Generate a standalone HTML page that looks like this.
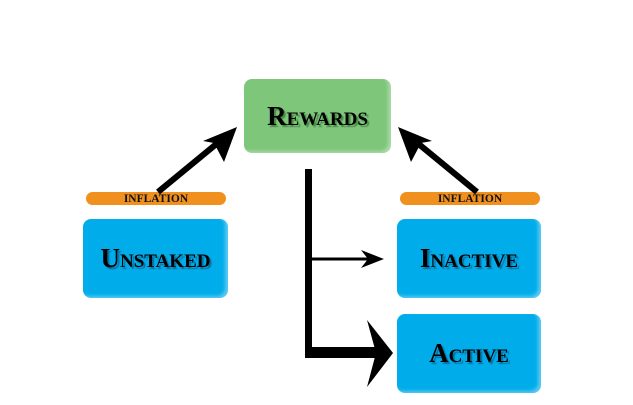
<!DOCTYPE html>
<html><head><style>
body{margin:0;width:633px;height:405px;background:#fff;position:relative;overflow:hidden;font-family:"Liberation Serif",serif}
.b{position:absolute;border-radius:8px;display:flex;align-items:center;justify-content:center;font-weight:bold;font-variant:small-caps;font-size:27px;color:#000;box-shadow:inset -3px -2px 3px rgba(255,255,255,.35)}
.bl{background:#00adea;text-shadow:2px 2px 1px #0a6fa0}
.g{background:#7dc67a;text-shadow:2px 2px 1px #4a8a48}
.inf{position:absolute;height:13px;border-radius:7px;background:#f0901e;font-size:11.5px;font-weight:bold;display:flex;align-items:center;justify-content:center;color:#111;padding-top:1px;box-sizing:border-box}
</style></head><body>
<div class="b g" style="left:244px;top:79px;width:147px;height:74px">Rewards</div>
<div class="b bl" style="left:83px;top:219px;width:145px;height:79px">Unstaked</div>
<div class="b bl" style="left:397px;top:219px;width:144px;height:79px">Inactive</div>
<div class="b bl" style="left:397px;top:314px;width:144px;height:79px">Active</div>
<div class="inf" style="left:86px;top:192px;width:140px">INFLATION</div>
<div class="inf" style="left:400px;top:192px;width:140px">INFLATION</div>
<svg width="633" height="405" style="position:absolute;left:0;top:0">
<line x1="158" y1="192" x2="220" y2="141" stroke="#000" stroke-width="6"/>
<polygon points="237,127 203,141 214,143 224,162" fill="#000"/>
<line x1="477" y1="192" x2="415" y2="141" stroke="#000" stroke-width="6"/>
<polygon points="398,127 432,141 421,143 411,162" fill="#000"/>
<rect x="305" y="169" width="7" height="189" fill="#000"/>
<line x1="311" y1="259" x2="378" y2="259" stroke="#000" stroke-width="3"/>
<polygon points="384,259 361,250 368,259 361,268" fill="#000"/>
<rect x="305" y="347" width="72" height="11" fill="#000"/>
<polygon points="393,353 367,320 376,353 367,387" fill="#000"/>
</svg>
</body></html>
